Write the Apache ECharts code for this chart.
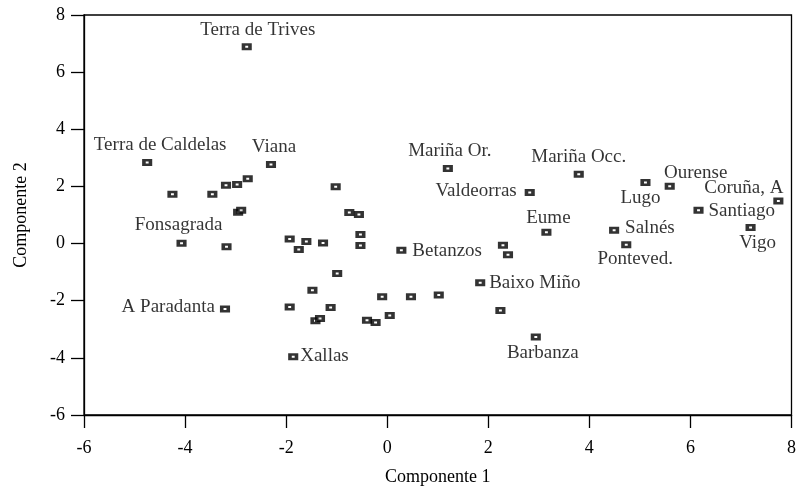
<!DOCTYPE html>
<html><head><meta charset="utf-8">
<script src="https://cdn.jsdelivr.net/npm/echarts@6/dist/echarts.min.js"></script>
<style>html,body{margin:0;padding:0;background:#fff}#c{width:799px;height:495px}</style>
</head><body><div id="c"></div>
<script>
// ---- data ----
const names = [
  "Terra de Trives","Terra de Caldelas","Viana","","","","","","","",
  "Fonsagrada","","","","","","","","","",
  "","Betanzos","","","","","","","","",
  "","","","","Xallas","A Paradanta","Mariña Or.","Mariña Occ.","Valdeorras","Eume",
  "","","Baixo Miño","","Barbanza","Salnés","Ponteved.","Lugo","Ourense","Santiago",
  "Coruña, A","Vigo"
];
const comp1 = [
  -2.78,-4.75,-2.30,-4.25,-3.46,-3.19,-2.97,-2.76,-2.95,-2.89,
  -4.07,-3.18,-1.93,-1.60,-1.75,-1.27,-1.02,-0.75,-0.56,-0.53,
  -0.53,0.28,-0.99,-1.48,-1.93,-1.12,-1.42,-1.33,-0.10,0.47,
  1.02,-0.40,-0.23,0.05,-1.86,-3.21,1.20,3.79,2.82,3.15,
  2.29,2.39,1.84,2.24,2.94,4.49,4.73,5.11,5.59,6.16,
  7.74,7.19
];
const comp2 = [
  6.89,2.84,2.77,1.73,1.73,2.04,2.07,2.27,1.10,1.17,
  0.01,-0.11,0.16,0.07,-0.21,0.02,1.99,1.09,1.02,0.32,
  -0.07,-0.23,-1.05,-1.63,-2.22,-2.24,-2.70,-2.62,-1.86,-1.86,
  -1.80,-2.68,-2.76,-2.52,-3.96,-2.29,2.63,2.43,1.79,0.40,
  -0.06,-0.39,-1.37,-2.34,-3.27,0.47,-0.04,2.14,2.01,1.17,
  1.49,0.56
];
const xTickValues = [-6,-4,-2,0,2,4,6,8];
const yTickValues = [-6,-4,-2,0,2,4,6,8];
const xTitle = "Componente 1";
const yTitle = "Componente 2";

// ---- label placement (layout only) ----
const labelPlace = {
  "Terra de Trives":["center",11,-17],
  "Terra de Caldelas":["center",13,-17],
  "Viana":["center",3,-17],
  "Fonsagrada":["center",-3,-18],
  "A Paradanta":["right",-10,-2],
  "Xallas":["left",7,-1],
  "Betanzos":["left",11,1],
  "Mariña Or.":["center",2,-17],
  "Valdeorras":["right",-13,-1],
  "Eume":["center",2,-14],
  "Baixo Miño":["left",9,0],
  "Barbanza":["center",7,16],
  "Mariña Occ.":["center",0,-17],
  "Salnés":["left",11,-2],
  "Ponteved.":["center",9,14],
  "Lugo":["center",-5,16],
  "Ourense":["center",26,-13],
  "Coruña, A":["right",5,-13],
  "Santiago":["left",10,1],
  "Vigo":["center",7,15]
};

const FONT = "'Liberation Serif','Times New Roman',serif";
const points = comp1.map((x,i)=>{
  const n = names[i];
  const item = {name:n, value:[x, comp2[i]]};
  if (n && labelPlace[n]) {
    const p = labelPlace[n];
    item.label = {show:true, position:'inside', align:p[0], verticalAlign:'middle', offset:[p[1],p[2]]};
  }
  return item;
});

const chart = echarts.init(document.getElementById('c'), null, {renderer:'canvas'});
const axisCommon = {
  type:'value', min:-6, max:8, interval:2,
  axisLine:{show:true, onZero:false, lineStyle:{color:'#000', width:1.3}},
  axisTick:{show:true, inside:false, length:13, lineStyle:{color:'#000', width:1.3}},
  splitLine:{show:false},
  nameLocation:'middle',
  nameTextStyle:{color:'#000', fontFamily:FONT, fontSize:18},
};
chart.setOption({
  animation:false,
  backgroundColor:'#fff',
  grid:{left:84, right:7, top:15, bottom:80, show:true, borderColor:'#000', borderWidth:1.3, backgroundColor:'transparent'},
  xAxis:Object.assign({}, axisCommon, {
    name:xTitle, nameGap:53,
    axisLabel:{color:'#000', fontFamily:FONT, fontSize:18, margin:24,
      formatter:v=> xTickValues.includes(v) ? String(v) : ''}
  }),
  yAxis:Object.assign({}, axisCommon, {
    name:yTitle, nameGap:54,
    axisLabel:{color:'#000', fontFamily:FONT, fontSize:18, margin:19,
      formatter:v=> yTickValues.includes(v) ? String(v) : ''}
  }),
  series:[{
    type:'scatter',
    symbol:'rect',
    symbolSize:[6.5,4.5],
    itemStyle:{color:'#fff', borderColor:'#000', borderWidth:3},
    label:{show:false, formatter:'{b}', color:'#000', fontFamily:FONT, fontSize:19},
    emphasis:{disabled:true},
    data:points
  }]
});
</script></body></html>
